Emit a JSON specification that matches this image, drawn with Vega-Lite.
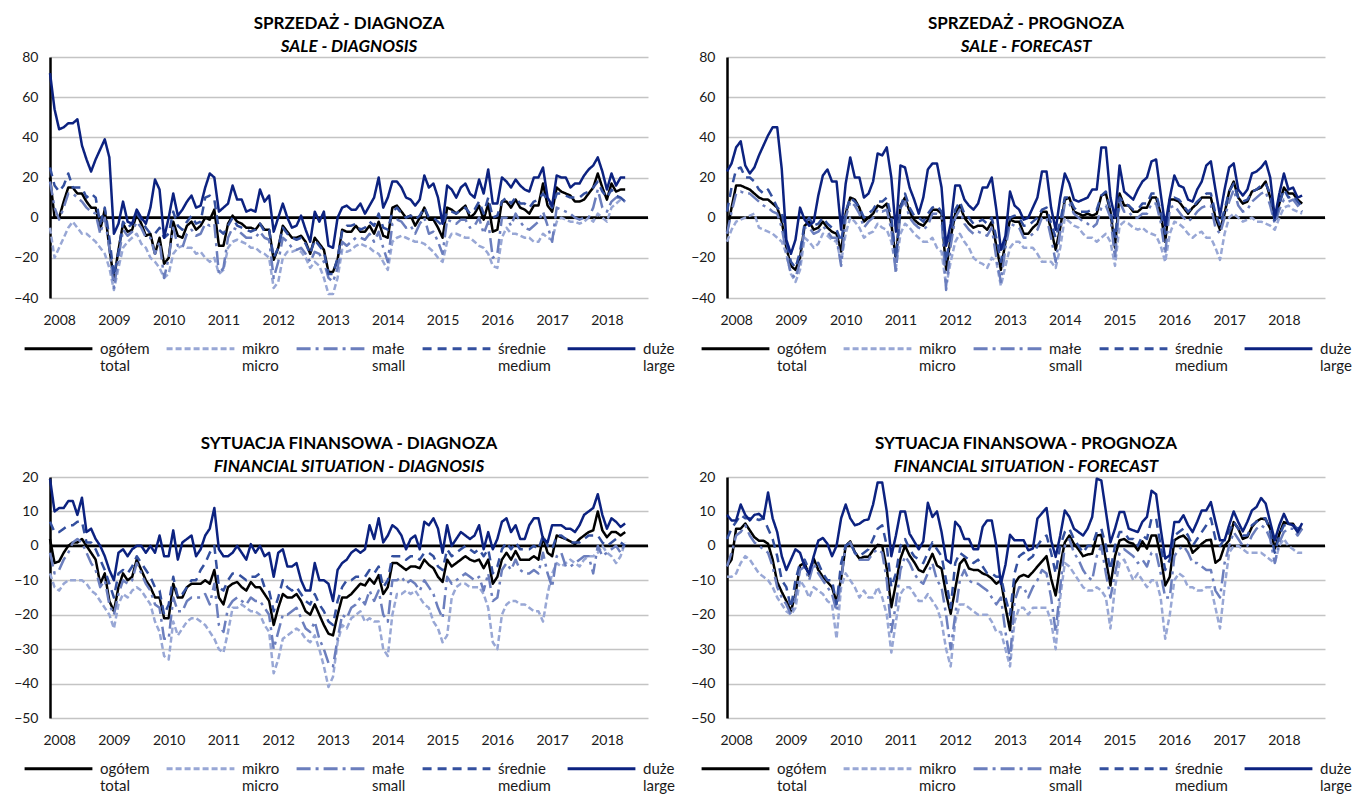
{
"$schema": "https://vega.github.io/schema/vega-lite/v6.json",
"background": "white",
"padding": {"left": 13, "top": 15, "right": 0, "bottom": 0},
"columns": 2,
"spacing": {"column": 15, "row": 61},
"datasets": {
"sd": [
{"m":0,"a":20,"b":-5,"c":18,"d":25,"e":72},{"m":1,"a":0,"b":-20,"c":5,"d":16,"e":54},{"m":2,"a":0,"b":-15,"c":-1,"d":13,"e":44},{"m":3,"a":8,"b":-10,"c":5,"d":16,"e":45},{"m":4,"a":15,"b":-5,"c":12,"d":22,"e":47},{"m":5,"a":15,"b":-2,"c":12,"d":15,"e":47},{"m":6,"a":12,"b":-5,"c":10,"d":15,"e":49},{"m":7,"a":12,"b":-8,"c":8,"d":15,"e":36},{"m":8,"a":8,"b":-8,"c":5,"d":10,"e":29},{"m":9,"a":5,"b":-10,"c":3,"d":12,"e":23},
{"m":10,"a":5,"b":-12,"c":2,"d":10,"e":29},{"m":11,"a":-6,"b":-15,"c":-8,"d":-3,"e":34},{"m":12,"a":4,"b":-18,"c":0,"d":5,"e":39},{"m":13,"a":-15,"b":-25,"c":-15,"d":-10,"e":30},{"m":14,"a":-31,"b":-36,"c":-35,"d":-29,"e":-8},{"m":15,"a":-16,"b":-25,"c":-20,"d":-17,"e":-3},{"m":16,"a":-3,"b":-15,"c":-6,"d":-2,"e":8},{"m":17,"a":-7,"b":-12,"c":-9,"d":-5,"e":-2},{"m":18,"a":-6,"b":-10,"c":-7,"d":-3,"e":-3},{"m":19,"a":2,"b":-8,"c":-2,"d":2,"e":4},
{"m":20,"a":-3,"b":-13,"c":-5,"d":-1,"e":0},{"m":21,"a":-9,"b":-15,"c":-10,"d":-5,"e":-3},{"m":22,"a":-8,"b":-20,"c":-10,"d":-8,"e":5},{"m":23,"a":-18,"b":-22,"c":-18,"d":-8,"e":19},{"m":24,"a":-10,"b":-25,"c":-12,"d":-5,"e":14},{"m":25,"a":-23,"b":-30,"c":-30,"d":-10,"e":-10},{"m":26,"a":-20,"b":-28,"c":-20,"d":-8,"e":0},{"m":27,"a":-2,"b":-18,"c":-5,"d":3,"e":12},{"m":28,"a":-9,"b":-15,"c":-14,"d":-4,"e":1},{"m":29,"a":-10,"b":-14,"c":-15,"d":-6,"e":4},
{"m":30,"a":-4,"b":-15,"c":-8,"d":-2,"e":8},{"m":31,"a":-2,"b":-15,"c":-6,"d":1,"e":11},{"m":32,"a":-6,"b":-18,"c":-9,"d":-3,"e":5},{"m":33,"a":-4,"b":-17,"c":-8,"d":-2,"e":6},{"m":34,"a":0,"b":-20,"c":-3,"d":10,"e":15},{"m":35,"a":-1,"b":-22,"c":-4,"d":11,"e":22},{"m":36,"a":4,"b":-20,"c":-3,"d":9,"e":20},{"m":37,"a":-14,"b":-28,"c":-28,"d":-6,"e":3},{"m":38,"a":-14,"b":-26,"c":-25,"d":-8,"e":5},{"m":39,"a":-3,"b":-15,"c":-10,"d":-4,"e":7},
{"m":40,"a":1,"b":-12,"c":-5,"d":0,"e":16},{"m":41,"a":-2,"b":-11,"c":-6,"d":-4,"e":9},{"m":42,"a":-3,"b":-12,"c":-8,"d":-5,"e":9},{"m":43,"a":-5,"b":-13,"c":-10,"d":-6,"e":3},{"m":44,"a":-5,"b":-15,"c":-10,"d":-7,"e":4},{"m":45,"a":-6,"b":-15,"c":-10,"d":-6,"e":3},{"m":46,"a":-3,"b":-17,"c":-7,"d":-3,"e":14},{"m":47,"a":-6,"b":-18,"c":-10,"d":-7,"e":8},{"m":48,"a":-6,"b":-20,"c":-11,"d":-6,"e":11},{"m":49,"a":-21,"b":-35,"c":-30,"d":-20,"e":-7},
{"m":50,"a":-15,"b":-32,"c":-22,"d":-15,"e":0},{"m":51,"a":-4,"b":-20,"c":-10,"d":-5,"e":7},{"m":52,"a":-7,"b":-17,"c":-12,"d":-8,"e":0},{"m":53,"a":-10,"b":-17,"c":-15,"d":-10,"e":-5},{"m":54,"a":-10,"b":-16,"c":-16,"d":-11,"e":-4},{"m":55,"a":-9,"b":-17,"c":-15,"d":-10,"e":1},{"m":56,"a":-12,"b":-20,"c":-18,"d":-13,"e":-6},{"m":57,"a":-18,"b":-25,"c":-22,"d":-18,"e":-12},{"m":58,"a":-10,"b":-22,"c":-17,"d":-11,"e":3},{"m":59,"a":-13,"b":-24,"c":-18,"d":-14,"e":-2},
{"m":60,"a":-16,"b":-30,"c":-22,"d":-17,"e":3},{"m":61,"a":-27,"b":-38,"c":-30,"d":-28,"e":-14},{"m":62,"a":-27,"b":-38,"c":-32,"d":-28,"e":-15},{"m":63,"a":-21,"b":-30,"c":-25,"d":-20,"e":0},{"m":64,"a":-6,"b":-16,"c":-12,"d":-7,"e":5},{"m":65,"a":-7,"b":-17,"c":-14,"d":-4,"e":6},{"m":66,"a":-7,"b":-16,"c":-12,"d":-4,"e":4},{"m":67,"a":-4,"b":-14,"c":-10,"d":-3,"e":4},{"m":68,"a":-7,"b":-13,"c":-10,"d":-6,"e":7},{"m":69,"a":-7,"b":-14,"c":-11,"d":-5,"e":2},
{"m":70,"a":-4,"b":-15,"c":-8,"d":-2,"e":6},{"m":71,"a":-8,"b":-17,"c":-12,"d":-4,"e":10},{"m":72,"a":-2,"b":-18,"c":-7,"d":2,"e":20},{"m":73,"a":-9,"b":-22,"c":-15,"d":-5,"e":5},{"m":74,"a":-10,"b":-26,"c":-22,"d":-6,"e":10},{"m":75,"a":5,"b":-12,"c":-3,"d":3,"e":18},{"m":76,"a":6,"b":-10,"c":-1,"d":5,"e":18},{"m":77,"a":3,"b":-9,"c":-2,"d":2,"e":15},{"m":78,"a":0,"b":-10,"c":-5,"d":0,"e":10},{"m":79,"a":1,"b":-11,"c":-4,"d":1,"e":9},
{"m":80,"a":-4,"b":-12,"c":-8,"d":-1,"e":6},{"m":81,"a":0,"b":-12,"c":-3,"d":1,"e":9},{"m":82,"a":5,"b":-13,"c":0,"d":5,"e":21},{"m":83,"a":-1,"b":-15,"c":-8,"d":0,"e":15},{"m":84,"a":-1,"b":-17,"c":-7,"d":0,"e":17},{"m":85,"a":-5,"b":-20,"c":-12,"d":-2,"e":10},{"m":86,"a":-10,"b":-22,"c":-18,"d":-4,"e":-3},{"m":87,"a":5,"b":-12,"c":-1,"d":3,"e":16},{"m":88,"a":4,"b":-8,"c":-2,"d":3,"e":14},{"m":89,"a":2,"b":-8,"c":-3,"d":2,"e":10},
{"m":90,"a":4,"b":-9,"c":-1,"d":4,"e":15},{"m":91,"a":6,"b":-10,"c":-1,"d":5,"e":17},{"m":92,"a":0,"b":-10,"c":-5,"d":2,"e":12},{"m":93,"a":2,"b":-12,"c":-4,"d":4,"e":10},{"m":94,"a":6,"b":-14,"c":0,"d":8,"e":19},{"m":95,"a":-1,"b":-15,"c":-8,"d":2,"e":12},{"m":96,"a":7,"b":-18,"c":-2,"d":10,"e":24},{"m":97,"a":-7,"b":-24,"c":-20,"d":0,"e":7},{"m":98,"a":-6,"b":-25,"c":-18,"d":1,"e":7},{"m":99,"a":8,"b":-10,"c":0,"d":8,"e":20},
{"m":100,"a":8,"b":-5,"c":0,"d":10,"e":18},{"m":101,"a":5,"b":-8,"c":-4,"d":7,"e":15},{"m":102,"a":9,"b":-8,"c":2,"d":10,"e":19},{"m":103,"a":5,"b":-9,"c":-2,"d":7,"e":16},{"m":104,"a":4,"b":-10,"c":-5,"d":7,"e":14},{"m":105,"a":2,"b":-10,"c":-6,"d":5,"e":13},{"m":106,"a":6,"b":-12,"c":-4,"d":8,"e":20},{"m":107,"a":6,"b":-12,"c":-2,"d":9,"e":20},{"m":108,"a":17,"b":-8,"c":3,"d":12,"e":25},{"m":109,"a":6,"b":-10,"c":-4,"d":9,"e":10},
{"m":110,"a":3,"b":-11,"c":-12,"d":5,"e":6},{"m":111,"a":15,"b":-2,"c":5,"d":12,"e":21},{"m":112,"a":13,"b":0,"c":4,"d":12,"e":20},{"m":113,"a":12,"b":-1,"c":3,"d":11,"e":20},{"m":114,"a":11,"b":-2,"c":2,"d":10,"e":15},{"m":115,"a":8,"b":-2,"c":0,"d":10,"e":17},{"m":116,"a":8,"b":-3,"c":-1,"d":10,"e":17},{"m":117,"a":9,"b":-2,"c":0,"d":12,"e":21},{"m":118,"a":12,"b":0,"c":0,"d":13,"e":24},{"m":119,"a":15,"b":-2,"c":5,"d":15,"e":26},
{"m":120,"a":22,"b":2,"c":14,"d":18,"e":30},{"m":121,"a":15,"b":0,"c":5,"d":13,"e":23},{"m":122,"a":9,"b":-2,"c":3,"d":10,"e":14},{"m":123,"a":17,"b":5,"c":8,"d":14,"e":22},{"m":124,"a":13,"b":7,"c":10,"d":11,"e":16},{"m":125,"a":14,"b":9,"c":10,"d":10,"e":20},{"m":126,"a":14,"b":8,"c":8,"d":8,"e":20}
],
"sf": [
{"m":0,"a":-7,"b":-12,"c":-8,"d":3,"e":23},{"m":1,"a":5,"b":-6,"c":3,"d":15,"e":27},{"m":2,"a":16,"b":-2,"c":12,"d":24,"e":35},{"m":3,"a":16,"b":-1,"c":13,"d":25,"e":38},{"m":4,"a":15,"b":0,"c":12,"d":20,"e":26},{"m":5,"a":14,"b":1,"c":12,"d":20,"e":22},{"m":6,"a":12,"b":2,"c":10,"d":18,"e":25},{"m":7,"a":10,"b":-5,"c":8,"d":14,"e":31},{"m":8,"a":9,"b":-6,"c":6,"d":12,"e":36},{"m":9,"a":9,"b":-7,"c":5,"d":14,"e":41},
{"m":10,"a":7,"b":-8,"c":3,"d":10,"e":45},{"m":11,"a":5,"b":-10,"c":2,"d":5,"e":45},{"m":12,"a":-2,"b":-12,"c":-5,"d":3,"e":24},{"m":13,"a":-15,"b":-18,"c":-18,"d":-12,"e":-11},{"m":14,"a":-24,"b":-28,"c":-28,"d":-22,"e":-18},{"m":15,"a":-26,"b":-32,"c":-30,"d":-25,"e":-11},{"m":16,"a":-20,"b":-26,"c":-22,"d":-17,"e":5},{"m":17,"a":-4,"b":-10,"c":-5,"d":-3,"e":-1},{"m":18,"a":-2,"b":-12,"c":-5,"d":0,"e":-4},{"m":19,"a":-6,"b":-15,"c":-8,"d":-4,"e":-2},
{"m":20,"a":-5,"b":-13,"c":-7,"d":-3,"e":11},{"m":21,"a":-2,"b":-8,"c":-4,"d":0,"e":21},{"m":22,"a":-5,"b":-9,"c":-7,"d":-3,"e":24},{"m":23,"a":-7,"b":-11,"c":-10,"d":-5,"e":18},{"m":24,"a":-8,"b":-12,"c":-10,"d":-6,"e":18},{"m":25,"a":-17,"b":-22,"c":-24,"d":-12,"e":-6},{"m":26,"a":2,"b":-8,"c":0,"d":3,"e":17},{"m":27,"a":10,"b":0,"c":8,"d":10,"e":30},{"m":28,"a":9,"b":-2,"c":6,"d":8,"e":20},{"m":29,"a":5,"b":-5,"c":2,"d":5,"e":20},
{"m":30,"a":-2,"b":-10,"c":-5,"d":0,"e":10},{"m":31,"a":0,"b":-8,"c":-2,"d":2,"e":12},{"m":32,"a":2,"b":-7,"c":0,"d":4,"e":18},{"m":33,"a":6,"b":-3,"c":4,"d":8,"e":32},{"m":34,"a":5,"b":-5,"c":3,"d":8,"e":31},{"m":35,"a":7,"b":-6,"c":4,"d":10,"e":35},{"m":36,"a":-3,"b":-12,"c":-6,"d":0,"e":20},{"m":37,"a":-21,"b":-25,"c":-28,"d":-20,"e":-7},{"m":38,"a":6,"b":-8,"c":5,"d":5,"e":26},{"m":39,"a":10,"b":-3,"c":8,"d":12,"e":25},
{"m":40,"a":3,"b":-5,"c":0,"d":5,"e":15},{"m":41,"a":-1,"b":-8,"c":-3,"d":1,"e":9},{"m":42,"a":-3,"b":-10,"c":-5,"d":0,"e":2},{"m":43,"a":-4,"b":-12,"c":-6,"d":-2,"e":10},{"m":44,"a":-1,"b":-12,"c":-4,"d":2,"e":24},{"m":45,"a":4,"b":-10,"c":2,"d":5,"e":27},{"m":46,"a":4,"b":-15,"c":2,"d":6,"e":27},{"m":47,"a":2,"b":-17,"c":0,"d":3,"e":15},{"m":48,"a":-26,"b":-34,"c":-36,"d":-22,"e":-14},{"m":49,"a":-10,"b":-22,"c":-14,"d":-8,"e":-3},
{"m":50,"a":2,"b":-12,"c":0,"d":4,"e":16},{"m":51,"a":6,"b":-8,"c":4,"d":8,"e":16},{"m":52,"a":0,"b":-12,"c":-3,"d":2,"e":9},{"m":53,"a":-3,"b":-15,"c":-6,"d":0,"e":6},{"m":54,"a":-5,"b":-20,"c":-8,"d":-3,"e":4},{"m":55,"a":-4,"b":-22,"c":-7,"d":-2,"e":7},{"m":56,"a":-4,"b":-23,"c":-8,"d":-1,"e":15},{"m":57,"a":-6,"b":-25,"c":-9,"d":-3,"e":15},{"m":58,"a":-2,"b":-20,"c":-5,"d":0,"e":20},{"m":59,"a":-14,"b":-22,"c":-20,"d":-10,"e":4},
{"m":60,"a":-26,"b":-34,"c":-32,"d":-22,"e":-16},{"m":61,"a":-12,"b":-24,"c":-15,"d":-10,"e":-9},{"m":62,"a":-1,"b":-15,"c":-3,"d":0,"e":13},{"m":63,"a":-2,"b":-12,"c":-4,"d":1,"e":6},{"m":64,"a":-2,"b":-12,"c":-5,"d":0,"e":4},{"m":65,"a":-8,"b":-15,"c":-10,"d":-4,"e":-1},{"m":66,"a":-8,"b":-15,"c":-10,"d":-4,"e":0},{"m":67,"a":-5,"b":-15,"c":-8,"d":-2,"e":5},{"m":68,"a":-3,"b":-18,"c":-6,"d":0,"e":10},{"m":69,"a":3,"b":-22,"c":0,"d":4,"e":23},
{"m":70,"a":3,"b":-22,"c":0,"d":5,"e":23},{"m":71,"a":-6,"b":-22,"c":-10,"d":-3,"e":5},{"m":72,"a":-16,"b":-25,"c":-22,"d":-10,"e":-6},{"m":73,"a":-5,"b":-15,"c":-7,"d":-2,"e":10},{"m":74,"a":9,"b":0,"c":7,"d":10,"e":22},{"m":75,"a":10,"b":-2,"c":7,"d":10,"e":17},{"m":76,"a":3,"b":-4,"c":2,"d":5,"e":9},{"m":77,"a":2,"b":-5,"c":0,"d":3,"e":8},{"m":78,"a":1,"b":-8,"c":-2,"d":3,"e":9},{"m":79,"a":2,"b":-10,"c":-3,"d":3,"e":10},
{"m":80,"a":1,"b":-10,"c":-5,"d":4,"e":14},{"m":81,"a":2,"b":-12,"c":-3,"d":4,"e":14},{"m":82,"a":11,"b":-10,"c":5,"d":11,"e":35},{"m":83,"a":12,"b":-8,"c":6,"d":13,"e":35},{"m":84,"a":3,"b":-12,"c":0,"d":4,"e":10},{"m":85,"a":-15,"b":-24,"c":-20,"d":-10,"e":0},{"m":86,"a":12,"b":-4,"c":8,"d":10,"e":26},{"m":87,"a":6,"b":-2,"c":3,"d":7,"e":13},{"m":88,"a":6,"b":-3,"c":3,"d":6,"e":11},{"m":89,"a":3,"b":-5,"c":0,"d":4,"e":9},
{"m":90,"a":3,"b":-6,"c":0,"d":4,"e":14},{"m":91,"a":5,"b":-5,"c":2,"d":7,"e":18},{"m":92,"a":5,"b":-7,"c":2,"d":7,"e":20},{"m":93,"a":10,"b":-8,"c":7,"d":12,"e":28},{"m":94,"a":10,"b":-9,"c":7,"d":12,"e":29},{"m":95,"a":2,"b":-14,"c":-2,"d":3,"e":12},{"m":96,"a":-12,"b":-22,"c":-18,"d":-8,"e":-4},{"m":97,"a":9,"b":-8,"c":5,"d":8,"e":10},{"m":98,"a":9,"b":-2,"c":6,"d":10,"e":21},{"m":99,"a":8,"b":-3,"c":3,"d":9,"e":16},
{"m":100,"a":5,"b":-5,"c":0,"d":6,"e":15},{"m":101,"a":2,"b":-8,"c":-2,"d":3,"e":9},{"m":102,"a":5,"b":-10,"c":0,"d":5,"e":8},{"m":103,"a":7,"b":-8,"c":3,"d":8,"e":14},{"m":104,"a":10,"b":-7,"c":5,"d":10,"e":18},{"m":105,"a":10,"b":-10,"c":6,"d":12,"e":26},{"m":106,"a":10,"b":-10,"c":6,"d":12,"e":28},{"m":107,"a":0,"b":-15,"c":-5,"d":2,"e":14},{"m":108,"a":-6,"b":-21,"c":-8,"d":-4,"e":1},{"m":109,"a":2,"b":-8,"c":0,"d":4,"e":14},
{"m":110,"a":13,"b":0,"c":8,"d":13,"e":25},{"m":111,"a":18,"b":2,"c":14,"d":17,"e":27},{"m":112,"a":10,"b":0,"c":6,"d":10,"e":14},{"m":113,"a":7,"b":-2,"c":3,"d":8,"e":11},{"m":114,"a":8,"b":-1,"c":4,"d":9,"e":14},{"m":115,"a":13,"b":0,"c":8,"d":13,"e":22},{"m":116,"a":14,"b":-2,"c":10,"d":14,"e":23},{"m":117,"a":15,"b":-2,"c":12,"d":16,"e":25},{"m":118,"a":18,"b":-3,"c":13,"d":17,"e":28},{"m":119,"a":10,"b":-4,"c":6,"d":12,"e":20},
{"m":120,"a":-1,"b":-6,"c":-3,"d":-2,"e":0},{"m":121,"a":7,"b":0,"c":4,"d":7,"e":12},{"m":122,"a":15,"b":5,"c":9,"d":14,"e":22},{"m":123,"a":12,"b":6,"c":8,"d":10,"e":14},{"m":124,"a":12,"b":4,"c":9,"d":11,"e":15},{"m":125,"a":9,"b":3,"c":6,"d":8,"e":10},{"m":126,"a":7,"b":2,"c":3,"d":5,"e":11}
],
"fd": [
{"m":0,"a":2,"b":-8,"c":-2,"d":7,"e":19.5},{"m":1,"a":-5,"b":-12,"c":-8,"d":4,"e":10},{"m":2,"a":-4.5,"b":-13,"c":-7,"d":4,"e":11},{"m":3,"a":-2,"b":-11,"c":-4,"d":5,"e":11},{"m":4,"a":0,"b":-10,"c":-2,"d":6,"e":13},{"m":5,"a":1,"b":-10,"c":1,"d":6,"e":13},{"m":6,"a":1,"b":-10,"c":2,"d":7,"e":9},{"m":7,"a":2,"b":-10,"c":1,"d":7,"e":14},{"m":8,"a":0,"b":-11,"c":-2,"d":1,"e":4},{"m":9,"a":-2,"b":-13,"c":-5,"d":1,"e":5},
{"m":10,"a":-4,"b":-14,"c":-7,"d":-1,"e":2},{"m":11,"a":-11,"b":-16,"c":-12,"d":-4,"e":0},{"m":12,"a":-8,"b":-18,"c":-10,"d":-7,"e":-3},{"m":13,"a":-16,"b":-20,"c":-17,"d":-11,"e":-7},{"m":14,"a":-19,"b":-24,"c":-20,"d":-15,"e":-10},{"m":15,"a":-12,"b":-17,"c":-14,"d":-8,"e":-2},{"m":16,"a":-8,"b":-14,"c":-10,"d":-7,"e":-1},{"m":17,"a":-10,"b":-15,"c":-11,"d":-8,"e":-3},{"m":18,"a":-9,"b":-13,"c":-10,"d":-6,"e":-1},{"m":19,"a":-4,"b":-12,"c":-5,"d":-3,"e":0},
{"m":20,"a":-7,"b":-13,"c":-8,"d":-5,"e":0},{"m":21,"a":-10,"b":-15,"c":-11,"d":-7,"e":-2},{"m":22,"a":-12,"b":-17,"c":-13,"d":-9,"e":0},{"m":23,"a":-15,"b":-22,"c":-17,"d":-12,"e":-2},{"m":24,"a":-15,"b":-25,"c":-18,"d":-13,"e":3},{"m":25,"a":-21,"b":-32,"c":-27,"d":-20,"e":-3},{"m":26,"a":-21,"b":-33,"c":-27,"d":-17,"e":-3},{"m":27,"a":-11,"b":-22,"c":-15,"d":-9,"e":4.5},{"m":28,"a":-15,"b":-26,"c":-19,"d":-15,"e":-4},{"m":29,"a":-15,"b":-24,"c":-19,"d":-14,"e":1},
{"m":30,"a":-12,"b":-22,"c":-16,"d":-12,"e":2},{"m":31,"a":-11,"b":-21,"c":-15,"d":-10,"e":3},{"m":32,"a":-11,"b":-21,"c":-15,"d":-10,"e":-3},{"m":33,"a":-11,"b":-22,"c":-15,"d":-7,"e":-1},{"m":34,"a":-10,"b":-23,"c":-14,"d":-5,"e":3},{"m":35,"a":-11,"b":-25,"c":-17,"d":-2,"e":5},{"m":36,"a":-7,"b":-27,"c":-11,"d":0,"e":11},{"m":37,"a":-15,"b":-30,"c":-23,"d":-12,"e":-1},{"m":38,"a":-17,"b":-31,"c":-25,"d":-13,"e":-3},{"m":39,"a":-12,"b":-25,"c":-18,"d":-10,"e":-3},
{"m":40,"a":-11,"b":-18,"c":-16,"d":-8,"e":-2},{"m":41,"a":-10.5,"b":-18,"c":-15,"d":-8,"e":0},{"m":42,"a":-12,"b":-17,"c":-16,"d":-9,"e":-2},{"m":43,"a":-13,"b":-18,"c":-17,"d":-10,"e":-4},{"m":44,"a":-10.5,"b":-19,"c":-15,"d":-9,"e":0.5},{"m":45,"a":-12,"b":-19,"c":-16,"d":-9,"e":-2},{"m":46,"a":-12,"b":-20,"c":-16,"d":-8,"e":0},{"m":47,"a":-14,"b":-23,"c":-18,"d":-12,"e":-3},{"m":48,"a":-16,"b":-25,"c":-20,"d":-13,"e":-2},{"m":49,"a":-23,"b":-37,"c":-30,"d":-19,"e":-9},
{"m":50,"a":-18,"b":-33,"c":-25,"d":-15,"e":-2},{"m":51,"a":-14,"b":-27,"c":-20,"d":-10,"e":-1},{"m":52,"a":-15,"b":-26,"c":-20,"d":-12,"e":-6},{"m":53,"a":-15,"b":-25,"c":-19,"d":-13,"e":-6},{"m":54,"a":-14,"b":-24,"c":-18,"d":-12,"e":-5},{"m":55,"a":-16,"b":-25,"c":-21,"d":-14,"e":-10},{"m":56,"a":-19,"b":-27,"c":-24,"d":-16,"e":-13},{"m":57,"a":-20,"b":-28,"c":-25,"d":-17,"e":-13},{"m":58,"a":-17,"b":-26,"c":-22,"d":-14,"e":-5},{"m":59,"a":-20,"b":-30,"c":-27,"d":-17,"e":-10},
{"m":60,"a":-23,"b":-35,"c":-30,"d":-19,"e":-10},{"m":61,"a":-25.5,"b":-41,"c":-34,"d":-22,"e":-11},{"m":62,"a":-26,"b":-38,"c":-35,"d":-23,"e":-16},{"m":63,"a":-20,"b":-28,"c":-27,"d":-16,"e":-7},{"m":64,"a":-15,"b":-23,"c":-20,"d":-12,"e":-5},{"m":65,"a":-15,"b":-24,"c":-21,"d":-10,"e":-4},{"m":66,"a":-14,"b":-21,"c":-18,"d":-10,"e":-2},{"m":67,"a":-12.5,"b":-20,"c":-17,"d":-9,"e":-1},{"m":68,"a":-11,"b":-19,"c":-15,"d":-9,"e":-2},{"m":69,"a":-11.5,"b":-22,"c":-17,"d":-9,"e":-1},
{"m":70,"a":-9.5,"b":-21,"c":-13,"d":-7,"e":6},{"m":71,"a":-11,"b":-22,"c":-16,"d":-8,"e":2},{"m":72,"a":-8.5,"b":-22,"c":-13,"d":-6,"e":8},{"m":73,"a":-14,"b":-30,"c":-20,"d":-12,"e":1},{"m":74,"a":-12,"b":-32,"c":-22,"d":-10,"e":3},{"m":75,"a":-5,"b":-20,"c":-10,"d":-3,"e":6},{"m":76,"a":-5,"b":-14,"c":-10,"d":-3,"e":5},{"m":77,"a":-6,"b":-14,"c":-9,"d":-3,"e":3},{"m":78,"a":-7,"b":-13,"c":-11,"d":-4,"e":-1},{"m":79,"a":-6,"b":-14,"c":-10,"d":-3,"e":2},
{"m":80,"a":-6,"b":-13,"c":-11,"d":-3,"e":3},{"m":81,"a":-6.5,"b":-15,"c":-13,"d":-4,"e":-1},{"m":82,"a":-4,"b":-17,"c":-10,"d":-2,"e":7},{"m":83,"a":-5.5,"b":-18,"c":-12,"d":-2,"e":6},{"m":84,"a":-6.5,"b":-22,"c":-14,"d":-3,"e":8},{"m":85,"a":-9,"b":-24,"c":-18,"d":-6,"e":5},{"m":86,"a":-10.5,"b":-28,"c":-21,"d":-7,"e":-2},{"m":87,"a":-4,"b":-26,"c":-9,"d":-1,"e":6},{"m":88,"a":-6,"b":-15,"c":-11,"d":-3,"e":0},{"m":89,"a":-5,"b":-12,"c":-10,"d":-2,"e":2},
{"m":90,"a":-4,"b":-11,"c":-9,"d":-1,"e":4},{"m":91,"a":-3,"b":-11,"c":-8,"d":0,"e":3},{"m":92,"a":-4,"b":-12,"c":-9,"d":-1,"e":2},{"m":93,"a":-4.5,"b":-12,"c":-10,"d":-2,"e":3},{"m":94,"a":-4,"b":-12,"c":-9,"d":-1,"e":6},{"m":95,"a":-6.5,"b":-14,"c":-13,"d":-3,"e":-1},{"m":96,"a":-4,"b":-18,"c":-8,"d":-1,"e":4},{"m":97,"a":-11,"b":-28,"c":-16,"d":-8,"e":-1},{"m":98,"a":-9,"b":-30,"c":-15,"d":-6,"e":2},{"m":99,"a":-4,"b":-20,"c":-7,"d":-1,"e":7},
{"m":100,"a":-2,"b":-17,"c":-5,"d":1,"e":8},{"m":101,"a":-4,"b":-16,"c":-7,"d":-1,"e":4},{"m":102,"a":-1.5,"b":-16,"c":-4,"d":1,"e":6},{"m":103,"a":-4,"b":-17,"c":-7,"d":-1,"e":2},{"m":104,"a":-4,"b":-17,"c":-8,"d":-1,"e":2},{"m":105,"a":-4,"b":-18,"c":-8,"d":-1,"e":6},{"m":106,"a":-3,"b":-19,"c":-7,"d":0,"e":8},{"m":107,"a":-4,"b":-19,"c":-8,"d":-1,"e":8},{"m":108,"a":2.5,"b":-22,"c":-2,"d":3,"e":2},{"m":109,"a":-2,"b":-14,"c":-8,"d":0,"e":1},
{"m":110,"a":-3,"b":-8,"c":-12,"d":-1,"e":6},{"m":111,"a":3,"b":-5,"c":-3,"d":3,"e":6},{"m":112,"a":2.5,"b":-6,"c":-2,"d":3,"e":6},{"m":113,"a":2,"b":-5,"c":-6,"d":2,"e":5},{"m":114,"a":1.3,"b":-4,"c":-6,"d":1,"e":5},{"m":115,"a":0.5,"b":-5,"c":-5,"d":1,"e":4},{"m":116,"a":2,"b":-6,"c":-4,"d":1,"e":6},{"m":117,"a":3,"b":-4,"c":-3,"d":2,"e":9},{"m":118,"a":4,"b":-3,"c":-3,"d":3,"e":10},{"m":119,"a":4.5,"b":-3,"c":-8,"d":3,"e":11},
{"m":120,"a":10,"b":-2,"c":0,"d":3,"e":15},{"m":121,"a":4.5,"b":0,"c":-3,"d":1,"e":9},{"m":122,"a":2.5,"b":-2,"c":-2,"d":0,"e":5},{"m":123,"a":4,"b":-3,"c":-1,"d":1,"e":8},{"m":124,"a":4,"b":-5,"c":0,"d":2,"e":7},{"m":125,"a":3,"b":-3,"c":-2,"d":1,"e":5.5},{"m":126,"a":4,"b":1,"c":1,"d":0,"e":6.5}
],
"ff": [
{"m":0,"a":-6,"b":-9,"c":-6,"d":2,"e":9},{"m":1,"a":-4,"b":-9,"c":-2,"d":5,"e":7.4},{"m":2,"a":5,"b":-8,"c":3,"d":7,"e":7.4},{"m":3,"a":5,"b":-5,"c":4,"d":9,"e":12},{"m":4,"a":6.5,"b":-3,"c":6,"d":8,"e":9},{"m":5,"a":4.5,"b":-4,"c":3,"d":8,"e":7.4},{"m":6,"a":2.5,"b":-6,"c":1,"d":8,"e":9},{"m":7,"a":1.5,"b":-8,"c":0,"d":7.5,"e":9.3},{"m":8,"a":1.5,"b":-9,"c":-1,"d":8,"e":8},{"m":9,"a":0.6,"b":-10,"c":-2,"d":5,"e":15.5},
{"m":10,"a":-4,"b":-12,"c":-6,"d":2,"e":8},{"m":11,"a":-10.5,"b":-15,"c":-12,"d":-3,"e":4},{"m":12,"a":-13.4,"b":-17,"c":-15,"d":-10,"e":-3},{"m":13,"a":-16,"b":-19,"c":-17,"d":-12,"e":-7},{"m":14,"a":-19,"b":-20,"c":-20,"d":-18,"e":-4},{"m":15,"a":-14,"b":-18,"c":-15,"d":-10,"e":-1},{"m":16,"a":-5.7,"b":-10,"c":-7,"d":-5,"e":-2},{"m":17,"a":-5,"b":-12,"c":-6,"d":-4,"e":-6},{"m":18,"a":-8.6,"b":-15,"c":-10,"d":-7,"e":-8},{"m":19,"a":-3.7,"b":-12,"c":-5,"d":-4,"e":-3},
{"m":20,"a":-7,"b":-13,"c":-8,"d":-5,"e":1.5},{"m":21,"a":-9,"b":-14,"c":-10,"d":-8,"e":2.3},{"m":22,"a":-10.5,"b":-16,"c":-12,"d":-10,"e":0.6},{"m":23,"a":-12,"b":-17,"c":-14,"d":-10,"e":-3},{"m":24,"a":-16.3,"b":-27,"c":-19,"d":-17,"e":0},{"m":25,"a":-9.5,"b":-12,"c":-10,"d":-5,"e":8},{"m":26,"a":0,"b":-8,"c":0,"d":0,"e":12},{"m":27,"a":1.3,"b":-10,"c":1,"d":1,"e":8},{"m":28,"a":-1.8,"b":-12,"c":-2,"d":-2,"e":6},{"m":29,"a":-3.7,"b":-15,"c":-4,"d":-3,"e":6.4},
{"m":30,"a":-3.2,"b":-13,"c":-4,"d":-2,"e":7.4},{"m":31,"a":-3.2,"b":-15,"c":-4,"d":-1,"e":7.7},{"m":32,"a":-1.3,"b":-15,"c":-2,"d":2,"e":12},{"m":33,"a":0.3,"b":-12,"c":-1,"d":5,"e":18.4},{"m":34,"a":0,"b":-15,"c":-2,"d":6,"e":18.4},{"m":35,"a":-6.6,"b":-20,"c":-10,"d":0,"e":10},{"m":36,"a":-17.8,"b":-31,"c":-25,"d":-12,"e":-3},{"m":37,"a":-11,"b":-22,"c":-17,"d":-8,"e":3},{"m":38,"a":-3.7,"b":-14,"c":-7,"d":0,"e":10},{"m":39,"a":0,"b":-12,"c":-3,"d":2,"e":10},
{"m":40,"a":-2.8,"b":-12,"c":-5,"d":-1,"e":3.5},{"m":41,"a":-4.7,"b":-14,"c":-8,"d":-3,"e":1.3},{"m":42,"a":-7,"b":-16,"c":-10,"d":-4,"e":-1},{"m":43,"a":-7.6,"b":-16,"c":-11,"d":-5,"e":1.3},{"m":44,"a":-5.2,"b":-14,"c":-8,"d":-2,"e":12.5},{"m":45,"a":-2.3,"b":-16,"c":-5,"d":1,"e":8.4},{"m":46,"a":-5.7,"b":-18,"c":-10,"d":-1,"e":10},{"m":47,"a":-6.6,"b":-22,"c":-12,"d":-3,"e":4},{"m":48,"a":-14,"b":-30,"c":-20,"d":-10,"e":-4},{"m":49,"a":-19.7,"b":-35,"c":-30,"d":-18,"e":-5},
{"m":50,"a":-12.5,"b":-22,"c":-20,"d":-5,"e":7},{"m":51,"a":-5.2,"b":-17,"c":-10,"d":-2,"e":5.5},{"m":52,"a":-3.7,"b":-17,"c":-7,"d":-3,"e":2},{"m":53,"a":-6.6,"b":-18,"c":-10,"d":-4,"e":2},{"m":54,"a":-7,"b":-19,"c":-11,"d":-5,"e":-1},{"m":55,"a":-7,"b":-20,"c":-11,"d":-4,"e":-1},{"m":56,"a":-8,"b":-20,"c":-12,"d":-6,"e":5.5},{"m":57,"a":-8.5,"b":-20,"c":-13,"d":-8,"e":7.4},{"m":58,"a":-9.5,"b":-22,"c":-15,"d":-8,"e":7.4},{"m":59,"a":-11,"b":-25,"c":-17,"d":-9,"e":0},
{"m":60,"a":-10,"b":-25,"c":-15,"d":-9,"e":-11},{"m":61,"a":-17.8,"b":-30,"c":-25,"d":-15,"e":-5.5},{"m":62,"a":-24.5,"b":-35,"c":-33,"d":-20,"e":3.2},{"m":63,"a":-11,"b":-22,"c":-16,"d":-8,"e":1.6},{"m":64,"a":-9,"b":-18,"c":-12,"d":-3,"e":1.6},{"m":65,"a":-8.4,"b":-18,"c":-12,"d":-2,"e":1.6},{"m":66,"a":-9,"b":-20,"c":-15,"d":-4,"e":-1.3},{"m":67,"a":-7.6,"b":-18,"c":-12,"d":-3,"e":-0.8},{"m":68,"a":-6,"b":-18,"c":-10,"d":0,"e":7.9},{"m":69,"a":-4.5,"b":-18,"c":-7,"d":2,"e":9.5},
{"m":70,"a":-3,"b":-18,"c":-8,"d":3,"e":11},{"m":71,"a":-9.5,"b":-22,"c":-15,"d":-2,"e":1.6},{"m":72,"a":-14.4,"b":-30,"c":-25,"d":-8,"e":-3.2},{"m":73,"a":-5.7,"b":-15,"c":-12,"d":0,"e":3},{"m":74,"a":1,"b":-5,"c":0,"d":4,"e":10.3},{"m":75,"a":3,"b":-6,"c":2,"d":5,"e":8.4},{"m":76,"a":0.6,"b":-8,"c":-2,"d":2,"e":5},{"m":77,"a":-1,"b":-10,"c":-4,"d":0,"e":4},{"m":78,"a":-3,"b":-12,"c":-7,"d":-2,"e":3},{"m":79,"a":-2.5,"b":-13,"c":-9,"d":0,"e":5},
{"m":80,"a":-2.3,"b":-13,"c":-10,"d":0,"e":8.4},{"m":81,"a":3,"b":-12,"c":-3,"d":4,"e":19.5},{"m":82,"a":3.2,"b":-13,"c":0,"d":5,"e":19},{"m":83,"a":-4,"b":-15,"c":-8,"d":0,"e":10},{"m":84,"a":-11.5,"b":-24,"c":-15,"d":-7,"e":1},{"m":85,"a":-3,"b":-12,"c":-8,"d":0,"e":5},{"m":86,"a":1.6,"b":-5,"c":-2,"d":4,"e":9.8},{"m":87,"a":2,"b":-4,"c":-1,"d":4,"e":9.8},{"m":88,"a":1,"b":-7,"c":-2,"d":2,"e":5},{"m":89,"a":0.6,"b":-10,"c":-3,"d":2,"e":4.5},
{"m":90,"a":-1.3,"b":-8,"c":-5,"d":0,"e":4},{"m":91,"a":1.3,"b":-10,"c":-4,"d":3,"e":7},{"m":92,"a":-0.8,"b":-12,"c":-6,"d":2,"e":8.4},{"m":93,"a":3,"b":-10,"c":-2,"d":8,"e":16},{"m":94,"a":3,"b":-10,"c":-2,"d":8,"e":15},{"m":95,"a":-3,"b":-15,"c":-8,"d":0,"e":5},{"m":96,"a":-11.5,"b":-27,"c":-15,"d":-7,"e":-3.7},{"m":97,"a":-9,"b":-20,"c":-15,"d":-4,"e":-2.7},{"m":98,"a":1.6,"b":-10,"c":-3,"d":3,"e":6.9},{"m":99,"a":2.5,"b":-8,"c":-1,"d":4,"e":6.9},
{"m":100,"a":3,"b":-9,"c":0,"d":5,"e":8.9},{"m":101,"a":1.6,"b":-12,"c":-2,"d":3,"e":6},{"m":102,"a":-2,"b":-12,"c":-5,"d":0,"e":4},{"m":103,"a":-0.8,"b":-13,"c":-5,"d":2,"e":7},{"m":104,"a":0.6,"b":-13,"c":-6,"d":4,"e":10.3},{"m":105,"a":1.6,"b":-12,"c":-7,"d":6,"e":10.3},{"m":106,"a":1.8,"b":-12,"c":-7,"d":8,"e":12.7},{"m":107,"a":-4.9,"b":-18,"c":-13,"d":2,"e":7},{"m":108,"a":-3.9,"b":-24,"c":-15,"d":0,"e":1.6},{"m":109,"a":0,"b":-12,"c":-5,"d":2,"e":1.6},
{"m":110,"a":1.6,"b":-2,"c":0,"d":4,"e":6},{"m":111,"a":6.9,"b":0,"c":4,"d":7,"e":10},{"m":112,"a":5,"b":0,"c":2,"d":5,"e":6.9},{"m":113,"a":2,"b":-1,"c":0,"d":3,"e":4.2},{"m":114,"a":2.6,"b":-2,"c":0,"d":3,"e":7},{"m":115,"a":5.5,"b":-2,"c":3,"d":6,"e":10.3},{"m":116,"a":7.1,"b":-2,"c":5,"d":7,"e":11.3},{"m":117,"a":7.9,"b":-2,"c":6,"d":8,"e":13.9},{"m":118,"a":7.7,"b":-3,"c":5,"d":8,"e":12.3},{"m":119,"a":5,"b":-4,"c":2,"d":4,"e":6.9},
{"m":120,"a":-0.8,"b":-5,"c":-5,"d":-2,"e":1.6},{"m":121,"a":3.5,"b":0,"c":1,"d":3,"e":6},{"m":122,"a":6.9,"b":2,"c":4,"d":6,"e":9.3},{"m":123,"a":6.4,"b":0,"c":5,"d":6,"e":6.4},{"m":124,"a":6.4,"b":-1,"c":5,"d":6,"e":6},{"m":125,"a":4.2,"b":-2,"c":3,"d":5,"e":4},{"m":126,"a":5,"b":-2,"c":5,"d":6,"e":6.6}
]
},
"resolve": {"scale": {"color": "independent", "strokeDash": "independent"}, "legend": {"color": "independent", "strokeDash": "independent"}},
"concat": [
{
"title": {"text": "SPRZEDAŻ - DIAGNOZA", "subtitle": "SALE - DIAGNOSIS"},
"width": 598, "height": 241,
"layer": [
{"data": {"values": [{}]}, "mark": {"type": "rule", "color": "#000000", "strokeWidth": 2.8}, "encoding": {"y": {"datum": 0, "type": "quantitative"}}},
{"data": {"name": "sd"}, "transform": [{"fold": ["a", "b", "c", "d", "e"], "as": ["s", "v"]}],
"mark": {"type": "line", "strokeWidth": 2.5, "strokeJoin": "round"},
"encoding": {
"x": {"field": "m", "type": "quantitative", "scale": {"domain": [0, 131], "nice": false, "zero": false}, "axis": {"values": [2, 14, 26, 38, 50, 62, 74, 86, 98, 110, 122], "labelExpr": "2008 + (datum.value - 2) / 12", "title": null}},
"y": {"field": "v", "type": "quantitative", "scale": {"domain": [-40, 80], "nice": false, "zero": false}, "axis": {"values": [-40, -20, 0, 20, 40, 60, 80], "title": null}},
"color": {"field": "s", "type": "nominal", "scale": {"domain": ["a", "b", "c", "d", "e"], "range": ["#000000", "#98a7d5", "#6b7ebd", "#34509f", "#0c2280"]}, "legend": {"labelExpr": "datum.value == 'a' ? ['ogółem', 'total'] : datum.value == 'b' ? ['mikro', 'micro'] : datum.value == 'c' ? ['małe', 'small'] : datum.value == 'd' ? ['średnie', 'medium'] : ['duże', 'large']"}},
"strokeDash": {"field": "s", "type": "nominal", "scale": {"domain": ["a", "b", "c", "d", "e"], "range": [[1, 0], [6, 3], [14, 5, 3, 5], [9, 6], [1, 0]]}, "legend": {"labelExpr": "datum.value == 'a' ? ['ogółem', 'total'] : datum.value == 'b' ? ['mikro', 'micro'] : datum.value == 'c' ? ['małe', 'small'] : datum.value == 'd' ? ['średnie', 'medium'] : ['duże', 'large']"}}
}}
]
},
{
"title": {"text": "SPRZEDAŻ - PROGNOZA", "subtitle": "SALE - FORECAST"},
"width": 598, "height": 241,
"layer": [
{"data": {"values": [{}]}, "mark": {"type": "rule", "color": "#000000", "strokeWidth": 2.8}, "encoding": {"y": {"datum": 0, "type": "quantitative"}}},
{"data": {"name": "sf"}, "transform": [{"fold": ["a", "b", "c", "d", "e"], "as": ["s", "v"]}],
"mark": {"type": "line", "strokeWidth": 2.5, "strokeJoin": "round"},
"encoding": {
"x": {"field": "m", "type": "quantitative", "scale": {"domain": [0, 131], "nice": false, "zero": false}, "axis": {"values": [2, 14, 26, 38, 50, 62, 74, 86, 98, 110, 122], "labelExpr": "2008 + (datum.value - 2) / 12", "title": null}},
"y": {"field": "v", "type": "quantitative", "scale": {"domain": [-40, 80], "nice": false, "zero": false}, "axis": {"values": [-40, -20, 0, 20, 40, 60, 80], "title": null}},
"color": {"field": "s", "type": "nominal", "scale": {"domain": ["a", "b", "c", "d", "e"], "range": ["#000000", "#98a7d5", "#6b7ebd", "#34509f", "#0c2280"]}, "legend": {"labelExpr": "datum.value == 'a' ? ['ogółem', 'total'] : datum.value == 'b' ? ['mikro', 'micro'] : datum.value == 'c' ? ['małe', 'small'] : datum.value == 'd' ? ['średnie', 'medium'] : ['duże', 'large']"}},
"strokeDash": {"field": "s", "type": "nominal", "scale": {"domain": ["a", "b", "c", "d", "e"], "range": [[1, 0], [6, 3], [14, 5, 3, 5], [9, 6], [1, 0]]}, "legend": {"labelExpr": "datum.value == 'a' ? ['ogółem', 'total'] : datum.value == 'b' ? ['mikro', 'micro'] : datum.value == 'c' ? ['małe', 'small'] : datum.value == 'd' ? ['średnie', 'medium'] : ['duże', 'large']"}}
}}
]
},
{
"title": {"text": "SYTUACJA FINANSOWA - DIAGNOZA", "subtitle": "FINANCIAL SITUATION - DIAGNOSIS"},
"width": 598, "height": 241,
"layer": [
{"data": {"values": [{}]}, "mark": {"type": "rule", "color": "#000000", "strokeWidth": 2.8}, "encoding": {"y": {"datum": 0, "type": "quantitative"}}},
{"data": {"name": "fd"}, "transform": [{"fold": ["a", "b", "c", "d", "e"], "as": ["s", "v"]}],
"mark": {"type": "line", "strokeWidth": 2.5, "strokeJoin": "round"},
"encoding": {
"x": {"field": "m", "type": "quantitative", "scale": {"domain": [0, 131], "nice": false, "zero": false}, "axis": {"values": [2, 14, 26, 38, 50, 62, 74, 86, 98, 110, 122], "labelExpr": "2008 + (datum.value - 2) / 12", "title": null}},
"y": {"field": "v", "type": "quantitative", "scale": {"domain": [-50, 20], "nice": false, "zero": false}, "axis": {"values": [-50, -40, -30, -20, -10, 0, 10, 20], "tickCount": 20, "title": null}},
"color": {"field": "s", "type": "nominal", "scale": {"domain": ["a", "b", "c", "d", "e"], "range": ["#000000", "#98a7d5", "#6b7ebd", "#34509f", "#0c2280"]}, "legend": {"labelExpr": "datum.value == 'a' ? ['ogółem', 'total'] : datum.value == 'b' ? ['mikro', 'micro'] : datum.value == 'c' ? ['małe', 'small'] : datum.value == 'd' ? ['średnie', 'medium'] : ['duże', 'large']"}},
"strokeDash": {"field": "s", "type": "nominal", "scale": {"domain": ["a", "b", "c", "d", "e"], "range": [[1, 0], [6, 3], [14, 5, 3, 5], [9, 6], [1, 0]]}, "legend": {"labelExpr": "datum.value == 'a' ? ['ogółem', 'total'] : datum.value == 'b' ? ['mikro', 'micro'] : datum.value == 'c' ? ['małe', 'small'] : datum.value == 'd' ? ['średnie', 'medium'] : ['duże', 'large']"}}
}}
]
},
{
"title": {"text": "SYTUACJA FINANSOWA - PROGNOZA", "subtitle": "FINANCIAL SITUATION - FORECAST"},
"width": 598, "height": 241,
"layer": [
{"data": {"values": [{}]}, "mark": {"type": "rule", "color": "#000000", "strokeWidth": 2.8}, "encoding": {"y": {"datum": 0, "type": "quantitative"}}},
{"data": {"name": "ff"}, "transform": [{"fold": ["a", "b", "c", "d", "e"], "as": ["s", "v"]}],
"mark": {"type": "line", "strokeWidth": 2.5, "strokeJoin": "round"},
"encoding": {
"x": {"field": "m", "type": "quantitative", "scale": {"domain": [0, 131], "nice": false, "zero": false}, "axis": {"values": [2, 14, 26, 38, 50, 62, 74, 86, 98, 110, 122], "labelExpr": "2008 + (datum.value - 2) / 12", "title": null}},
"y": {"field": "v", "type": "quantitative", "scale": {"domain": [-50, 20], "nice": false, "zero": false}, "axis": {"values": [-50, -40, -30, -20, -10, 0, 10, 20], "tickCount": 20, "title": null}},
"color": {"field": "s", "type": "nominal", "scale": {"domain": ["a", "b", "c", "d", "e"], "range": ["#000000", "#98a7d5", "#6b7ebd", "#34509f", "#0c2280"]}, "legend": {"labelExpr": "datum.value == 'a' ? ['ogółem', 'total'] : datum.value == 'b' ? ['mikro', 'micro'] : datum.value == 'c' ? ['małe', 'small'] : datum.value == 'd' ? ['średnie', 'medium'] : ['duże', 'large']"}},
"strokeDash": {"field": "s", "type": "nominal", "scale": {"domain": ["a", "b", "c", "d", "e"], "range": [[1, 0], [6, 3], [14, 5, 3, 5], [9, 6], [1, 0]]}, "legend": {"labelExpr": "datum.value == 'a' ? ['ogółem', 'total'] : datum.value == 'b' ? ['mikro', 'micro'] : datum.value == 'c' ? ['małe', 'small'] : datum.value == 'd' ? ['średnie', 'medium'] : ['duże', 'large']"}}
}}
]
}
],
"config": {
"view": {"stroke": null},
"font": "Lato",
"axis": {"labelFont": "Lato", "labelFontSize": 14, "labelColor": "#1a1a1a", "ticks": false, "labelPadding": 12, "labelOverlap": false},
"axisX": {"grid": false, "domain": false, "labelPadding": 15, "tickCount": 20},
"axisY": {"grid": true, "gridColor": "#c4c4c4", "gridWidth": 1.5, "domain": true, "domainColor": "#000000", "domainWidth": 2.5, "tickCount": 20},
"title": {"font": "Lato", "fontSize": 17, "fontWeight": "bold", "color": "#000000", "subtitleFont": "Lato", "subtitleFontSize": 17, "subtitleFontWeight": "bold", "subtitleFontStyle": "italic", "subtitleColor": "#000000", "subtitlePadding": 6, "offset": -6, "anchor": "middle"},
"legend": {"title": null, "orient": "bottom", "direction": "horizontal", "offset": -14, "symbolType": "stroke", "symbolSize": 4600, "symbolStrokeWidth": 2.8, "labelFont": "Lato", "labelFontSize": 15, "labelColor": "#1a1a1a", "labelOffset": 6, "columnPadding": 10, "labelLimit": 200, "layout": {"bottom": {"anchor": "middle"}}}
}
}
